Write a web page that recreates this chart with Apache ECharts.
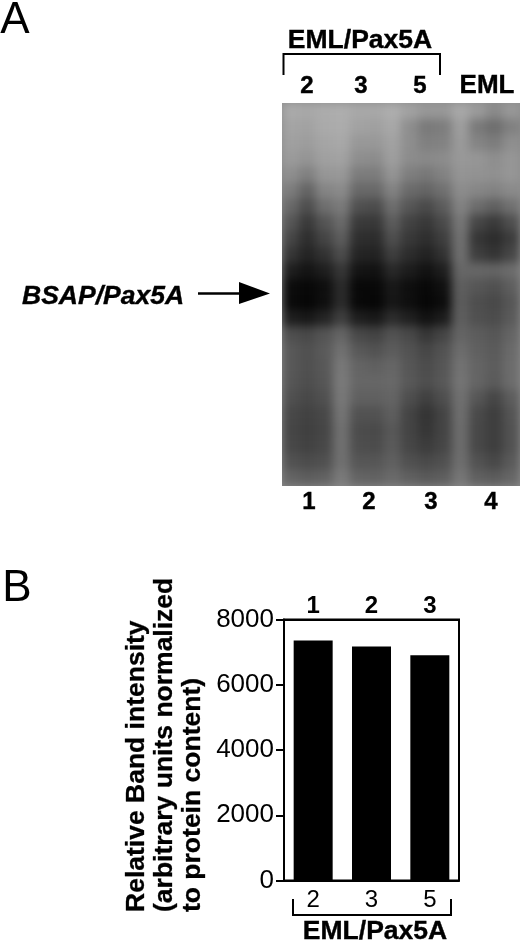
<!DOCTYPE html>
<html><head><meta charset="utf-8">
<style>
html,body{margin:0;padding:0;background:#fff;width:520px;height:943px;overflow:hidden}
#gelClip{position:absolute;left:282px;top:103px;width:238px;height:383px;overflow:hidden}
#gel{position:absolute;left:-30px;top:-30px;width:298px;height:443px;filter:blur(5px)}
#main{position:absolute;left:0;top:0;width:520px;height:943px}
</style>
<script src="https://cdn.jsdelivr.net/npm/echarts@6/dist/echarts.min.js"></script>
</head><body>
<div id="gelClip"><div id="gel"></div></div>
<div id="main"></div>
<script>
const FONT='"Liberation Sans",Arial,sans-serif';
// Panel B
const sampleClones=['2','3','5'];
const laneNumbers=['1','2','3'];
const bandIntensity=[7360,7175,6905];
const yTicks={min:0,max:8000,interval:2000};
// Panel A labels
const topClones=[['2',307],['3',361],['5',420],['EML',487]];
const gelLanes=[['1',309],['2',369],['3',431],['4',491]];
// Panel A gel: grey level per cell (rows top to bottom, 14 columns)
const gelGrey=[
[170,168,172,174,168,168,174,162,152,152,168,155,138,152],
[164,162,170,172,162,160,168,142,122,125,158,122,110,128],
[160,157,165,168,152,152,162,142,128,130,154,132,124,142],
[155,148,160,162,142,140,158,140,137,140,152,150,142,150],
[142,128,150,152,124,124,148,126,120,130,148,146,144,150],
[124,100,132,138,104,104,130,106,100,112,140,134,130,138],
[104,78,110,122,80,76,110,86,74,92,130,108,96,112],
[86,58,84,106,58,56,92,66,56,74,118,70,58,78],
[70,46,68,92,46,44,78,56,46,62,112,54,44,60],
[54,36,50,76,36,34,62,44,34,50,110,62,52,70],
[30,20,30,54,20,18,40,28,18,30,102,102,100,108],
[12,8,14,42,8,8,24,14,8,16,94,86,80,94],
[10,6,14,42,8,6,22,14,6,12,92,78,72,86],
[30,24,36,62,30,24,44,32,18,28,94,80,76,90],
[78,72,84,100,72,66,82,72,54,68,100,92,86,100],
[88,80,90,112,88,82,92,82,70,82,108,96,90,106],
[88,80,88,120,100,96,102,86,76,86,114,100,92,108],
[86,78,86,122,102,102,104,88,78,88,116,100,90,108],
[80,72,80,120,96,96,100,78,64,78,112,86,70,92],
[72,66,72,116,82,82,94,68,52,68,110,74,62,84],
[70,64,70,112,76,74,88,68,54,68,108,72,62,82],
[72,66,72,112,78,76,90,70,60,70,108,72,62,82],
[82,76,80,112,86,86,96,80,74,80,110,82,72,90],
[100,94,98,122,100,98,106,96,90,94,118,96,92,102]
];

const gelData=[];
gelGrey.forEach((row,r)=>row.forEach((v,c)=>gelData.push([c,r,v])));
const colIdx=gelGrey[0].map((_,i)=>i), rowIdx=gelGrey.map((_,i)=>i);
const gel=echarts.init(document.getElementById('gel'),null,{renderer:'canvas'});
gel.setOption({
 animation:false,backgroundColor:'#8c8c8c',
 grid:{left:30,top:30,width:238,height:383},
 xAxis:{type:'category',data:colIdx,show:false},
 yAxis:{type:'category',data:rowIdx,inverse:true,show:false},
 visualMap:{show:false,min:0,max:255,inRange:{color:['#000000','#ffffff']}},
 series:[{type:'heatmap',data:gelData,itemStyle:{borderWidth:0},progressive:0}]
});

function txt(x,y,text,size,opt={}){
 const style={text,fill:'#000',
  font:`${opt.style||'normal'} ${opt.weight||'bold'} ${size}px ${FONT}`,
  align:opt.align||'center',verticalAlign:'middle'};
 if(opt.heavy){style.stroke='#000';style.lineWidth=opt.heavy;}
 return {type:'text',x,y,rotation:opt.rot||0,silent:true,style};
}
function path(points,w=2){
 return {type:'polyline',shape:{points},silent:true,style:{stroke:'#000',lineWidth:w,fill:null}};
}
const graphics=[
 txt(15,21,'A',44,{weight:'normal'}),
 txt(17,589,'B',44,{weight:'normal'}),
 txt(360,41,'EML/Pax5A',26.5,{heavy:.4}),
 path([[283.5,75],[283.5,54],[440,54],[440,75]]),
 ...topClones.map(([t,x])=>txt(x,86,t,t==='EML'?26:24,{heavy:.4})),
 ...gelLanes.map(([t,x])=>txt(x,502,t,24,{heavy:.4})),
 txt(22,297,'BSAP/Pax5A',26.5,{style:'italic',align:'left',heavy:.4}),
 path([[198,293.5],[242,293.5]],2.5),
 {type:'polygon',shape:{points:[[239,282],[270,293.5],[239,304]]},silent:true,style:{fill:'#000'}},
 txt(137,912,'Relative Band intensity',26.5,{rot:Math.PI/2,align:'left',heavy:.3}),
 txt(165,912,'(arbitrary units normalized',26.5,{rot:Math.PI/2,align:'left',heavy:.3}),
 txt(193,912,'to protein content)',26.5,{rot:Math.PI/2,align:'left',heavy:.3}),
 path([[293,899],[293,915],[451,915],[451,899]]),
 txt(375,932,'EML/Pax5A',26.5,{heavy:.4})
];
const main=echarts.init(document.getElementById('main'),null,{renderer:'canvas'});
main.setOption({
 animation:false,backgroundColor:'transparent',
 grid:{left:284,top:619.5,width:175,height:261,show:true,borderColor:'#000',borderWidth:2,backgroundColor:'transparent'},
 xAxis:[
  {type:'category',data:sampleClones,position:'bottom',axisLine:{lineStyle:{color:'#000',width:2}},axisTick:{show:false},
   axisLabel:{color:'#000',fontFamily:FONT,fontSize:24,margin:8}},
  {type:'category',data:laneNumbers,position:'top',axisLine:{lineStyle:{color:'#000',width:2}},axisTick:{show:false},
   axisLabel:{color:'#000',fontFamily:FONT,fontSize:24,fontWeight:'bold',margin:1}}
 ],
 yAxis:{type:'value',...yTicks,splitLine:{show:false},axisLine:{show:true,lineStyle:{color:'#000',width:2}},
  axisTick:{show:true,length:8,lineStyle:{color:'#000',width:2}},
  axisLabel:{color:'#000',fontFamily:FONT,fontSize:26,margin:10,formatter:v=>String(v)}},
 series:[{type:'bar',data:bandIntensity,xAxisIndex:0,barWidth:39,itemStyle:{color:'#000'}}],
 graphic:graphics
});
</script>
</body></html>
